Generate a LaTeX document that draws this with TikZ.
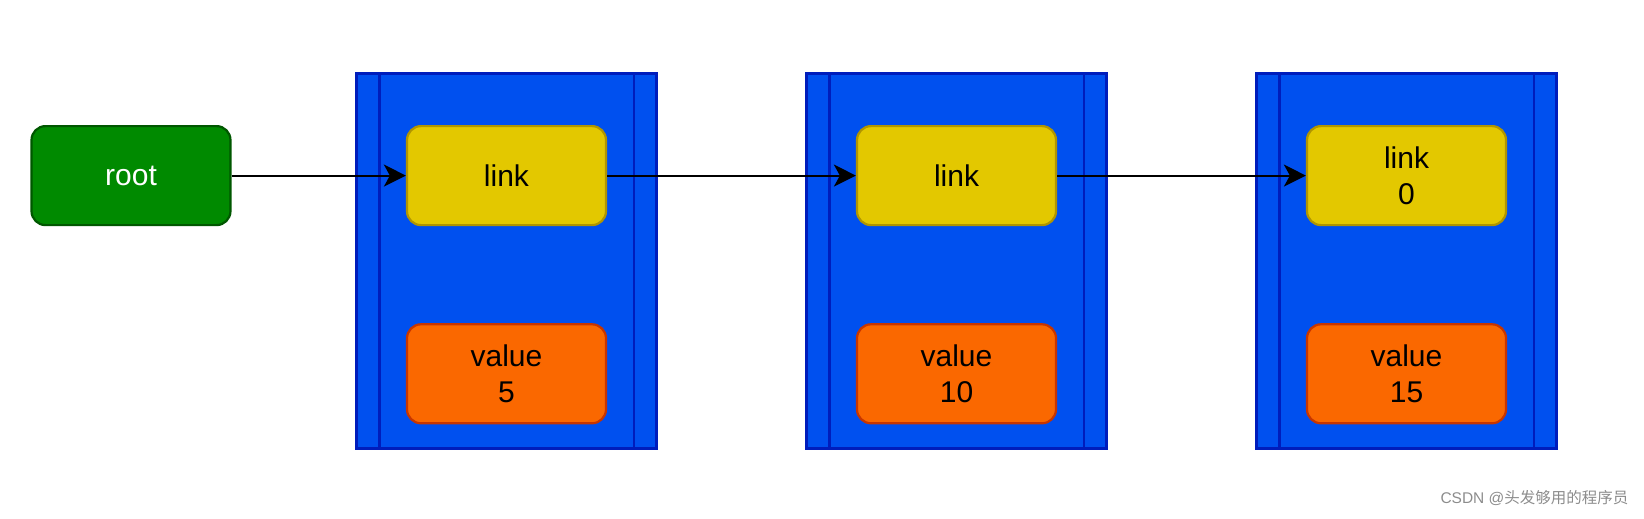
\documentclass[tikz,border=0pt]{standalone}
\usepackage{fontspec}
\setmainfont{Liberation Sans}
\newfontfamily\cjk{Noto Sans CJK SC}
\usetikzlibrary{arrows.meta, positioning}

\definecolor{rootfill}{HTML}{008A00}
\definecolor{rootline}{HTML}{005700}
\definecolor{boxfill}{HTML}{0050EF}
\definecolor{boxline}{HTML}{001DBC}
\definecolor{linkfill}{HTML}{E3C800}
\definecolor{linkline}{HTML}{B09500}
\definecolor{valfill}{HTML}{FA6800}
\definecolor{valline}{HTML}{C73500}

\tikzstyle{rootnode} = [rectangle, rounded corners=14pt,
minimum width=199pt,
minimum height=99pt,
text centered,
draw=rootline,
line width=2.2pt,
text=white,
fill=rootfill]
\tikzstyle{listbox} = [rectangle,
minimum width=300pt,
minimum height=375pt,
draw=boxline,
line width=2.2pt,
fill=boxfill]
\tikzstyle{linknode} = [rectangle, rounded corners=14pt,
minimum width=199pt,
minimum height=99pt,
text centered,
align=center,
draw=linkline,
line width=2.2pt,
fill=linkfill]
\tikzstyle{valnode} = [rectangle, rounded corners=14pt,
minimum width=199pt,
minimum height=99pt,
text centered,
align=center,
draw=valline,
line width=2.2pt,
fill=valfill]
\tikzstyle{arrow} = [line width=2.2pt,->,>={Stealth[length=22pt,width=22pt,inset=6pt]}]

\begin{document}
\begin{tikzpicture}[x=1pt, y=-1pt, node distance=97pt, every node/.style={font=\fontsize{30}{36}\selectfont}]
\useasboundingbox (0,0) rectangle (1644,519);

% Nodes
\node (root) [rootnode] at (131,175.6) {root};

\node (box1) [listbox] at (506.5,261) {};
\node (box2) [listbox] at (956.5,261) {};
\node (box3) [listbox] at (1406.5,261) {};

% the two side bars of each box
\draw [boxline, line width=2.2pt] ([xshift=24pt]box1.north west) -- ([xshift=24pt]box1.south west);
\draw [boxline, line width=2.2pt] ([xshift=-24pt]box1.north east) -- ([xshift=-24pt]box1.south east);
\draw [boxline, line width=2.2pt] ([xshift=24pt]box2.north west) -- ([xshift=24pt]box2.south west);
\draw [boxline, line width=2.2pt] ([xshift=-24pt]box2.north east) -- ([xshift=-24pt]box2.south east);
\draw [boxline, line width=2.2pt] ([xshift=24pt]box3.north west) -- ([xshift=24pt]box3.south west);
\draw [boxline, line width=2.2pt] ([xshift=-24pt]box3.north east) -- ([xshift=-24pt]box3.south east);

\node (link1) [linknode] at (506.5,175.6) {link};
\node (link2) [linknode] at (956.5,175.6) {link};
\node (link3) [linknode] at (1406.5,175.6) {link\\0};

\node (value1) [valnode, below=of link1] {value\\5};
\node (value2) [valnode, below=of link2] {value\\10};
\node (value3) [valnode, below=of link3] {value\\15};

\node (mark) [anchor=east, text=black!45, font=\fontsize{15.5}{19}\selectfont] at (1632,498) {CSDN @{\cjk 头发够用的程序员}};

% Connections
\draw [arrow] (root) -- (link1);
\draw [arrow] (link1) -- (link2);
\draw [arrow] (link2) -- (link3);

\end{tikzpicture}
\end{document}
